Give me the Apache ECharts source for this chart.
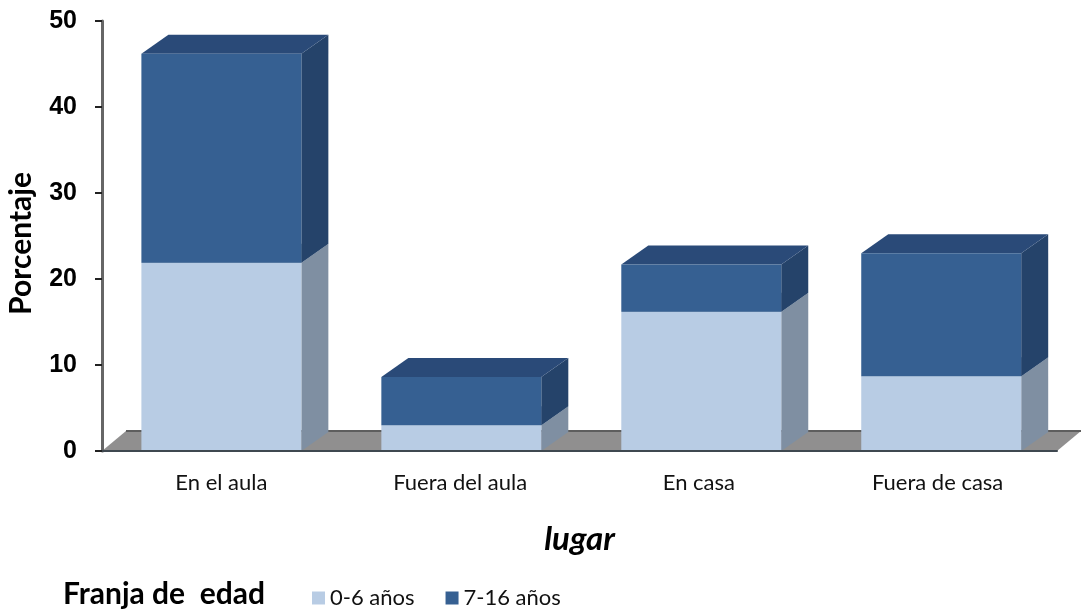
<!DOCTYPE html>
<html>
<head>
<meta charset="utf-8">
<title>Porcentaje por lugar</title>
<script src="https://cdn.jsdelivr.net/npm/echarts@6/dist/echarts.min.js"></script>
<style>
    html, body { margin: 0; padding: 0; background: #fff; }
    #chart { width: 1081px; height: 612px; }
</style>
</head>
<body>
<div id="chart"></div>
<script>
var categories = ['En el aula', 'Fuera del aula', 'En casa', 'Fuera de casa']
var young = [21.9, 3.0, 16.2, 8.7]
var older = [24.3, 5.6, 5.5, 14.3]
var yTicks = [0, 10, 20, 30, 40, 50]
var seriesNames = ['0-6 años', '7-16 años']

// profundidad del efecto 3D, en pixeles
var DEPTH_X = 27
var DEPTH_Y = 19
// las barras se separan un poco mas que las marcas del eje
var DRIFT = 1.2

function poly(points, color) {
    return { type: 'polygon', shape: { points: points }, style: { fill: color } }
}

function barItem(colors) {
    return function (params, api) {
        var width = api.size([1, 0])[0] * 0.67
        var bottom = api.coord([api.value(0), api.value(1)])
        var top = api.coord([api.value(0), api.value(2)])
        var center = bottom[0] + api.value(0) * DRIFT
        var x0 = center - width / 2
        var x1 = center + width / 2
        return {
            type: 'group',
            children: [
                poly([[x1, bottom[1]], [x1 + DEPTH_X, bottom[1] - DEPTH_Y], [x1 + DEPTH_X, top[1] - DEPTH_Y], [x1, top[1]]], colors.side),
                poly([[x0, top[1]], [x0 + DEPTH_X, top[1] - DEPTH_Y], [x1 + DEPTH_X, top[1] - DEPTH_Y], [x1, top[1]]], colors.top),
                poly([[x0, bottom[1]], [x1, bottom[1]], [x1, top[1]], [x0, top[1]]], colors.front)
            ]
        }
    }
}

function floorItem(params, api) {
    var c = params.coordSys
    var y = c.y + c.height
    var xEnd = c.x + c.width
    return {
        type: 'group',
        children: [
            poly([[c.x, y], [xEnd, y], [xEnd + 24, y - 20], [c.x + 24, y - 20]], '#908f8f'),
            {
                type: 'line',
                shape: { x1: c.x + 24, y1: y - 20, x2: xEnd + 24, y2: y - 20 },
                style: { stroke: '#5e5e5e', lineWidth: 2 }
            }
        ]
    }
}

var youngData = categories.map(function (c, i) {
    return [i, 0, young[i]]
})
var olderData = categories.map(function (c, i) {
    return [i, young[i], young[i] + older[i]]
})

var chart = echarts.init(document.getElementById('chart'))
chart.setOption({
    animation: false,
    backgroundColor: '#ffffff',
    grid: { left: 102, right: 24, top: 21, height: 430, outerBoundsMode: 'none' },
    graphic: [
        {
            type: 'text',
            left: 63,
            top: 579,
            style: {
                text: 'Franja de  edad',
                font: 'bold 30px Lato',
                fill: '#000'
            }
        }
    ],
    legend: {
        data: seriesNames,
        left: 307,
        top: 582,
        itemWidth: 13,
        itemHeight: 13,
        itemGap: 31,
        icon: 'rect',
        textStyle: { fontFamily: 'Lato', fontSize: 22, color: '#111' }
    },
    xAxis: {
        type: 'category',
        data: categories,
        z: 10,
        name: 'lugar',
        nameLocation: 'middle',
        nameGap: 72,
        nameTextStyle: { fontFamily: 'Lato', fontSize: 33, fontWeight: 'bold', fontStyle: 'italic', color: '#000' },
        axisLine: { lineStyle: { color: '#3f4850', width: 2 } },
        axisTick: { alignWithLabel: false, length: 7, lineStyle: { color: '#555', width: 1 } },
        axisLabel: { fontFamily: 'Lato', fontSize: 22, color: '#111', margin: 21 }
    },
    yAxis: {
        type: 'value',
        min: yTicks[0],
        max: yTicks[yTicks.length - 1],
        interval: yTicks[1] - yTicks[0],
        z: 10,
        name: 'Porcentaje',
        nameLocation: 'middle',
        nameGap: 66,
        nameTextStyle: { fontFamily: 'Lato', fontSize: 30, fontWeight: 'bold', color: '#000', padding: [0, 15, 0, 0] },
        splitLine: { show: false },
        axisLine: { show: true, lineStyle: { color: '#666', width: 3 } },
        axisTick: { show: true, length: 7, lineStyle: { color: '#222', width: 2 } },
        axisLabel: { fontFamily: 'Liberation Sans', fontSize: 25, fontWeight: 'bold', color: '#000', margin: 25 }
    },
    series: [
        {
            type: 'custom',
            name: 'suelo',
            z: 1,
            silent: true,
            data: [[0, 0, 0]],
            encode: { x: 0, y: 1 },
            renderItem: floorItem
        },
        {
            type: 'custom',
            name: seriesNames[0],
            z: 2,
            itemStyle: { color: '#b8cce4' },
            data: youngData,
            encode: { x: 0, y: 2 },
            renderItem: barItem({ front: '#b8cce4', side: '#7f8fa2', top: '#8296ad' })
        },
        {
            type: 'custom',
            name: seriesNames[1],
            z: 3,
            itemStyle: { color: '#366092' },
            data: olderData,
            encode: { x: 0, y: 2 },
            renderItem: barItem({ front: '#366092', side: '#25436a', top: '#2a4a78' })
        }
    ]
})
</script>
</body>
</html>
